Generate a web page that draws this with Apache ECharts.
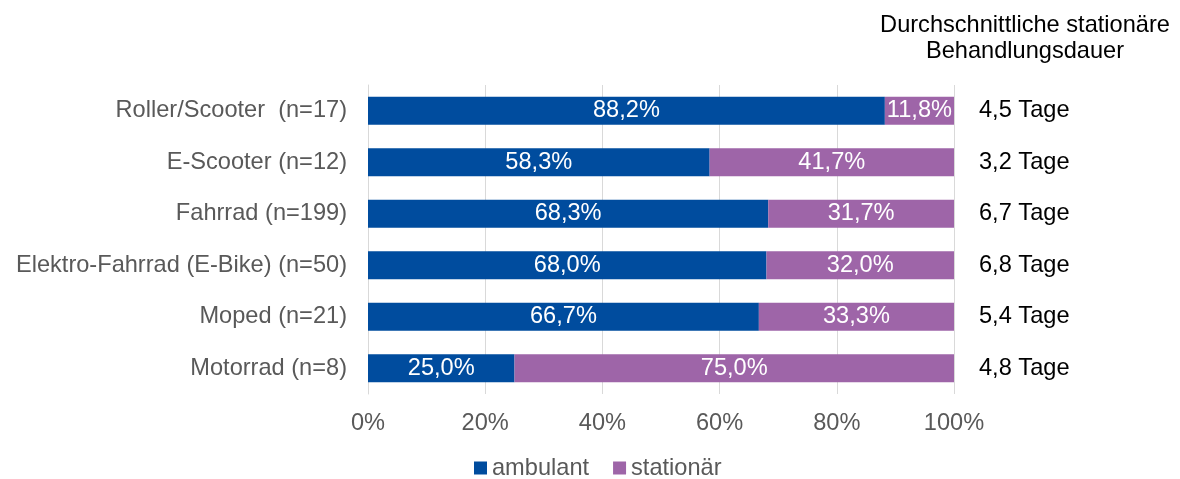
<!DOCTYPE html>
<html><head><meta charset="utf-8">
<script src="https://cdn.jsdelivr.net/npm/echarts@6/dist/echarts.min.js"></script>
<style>html,body{margin:0;padding:0;background:#fff}#c{width:1180px;height:479px}</style>
</head><body><div id="c"></div>
<script>
const categories = ['Roller/Scooter  (n=17)','E-Scooter (n=12)','Fahrrad (n=199)','Elektro-Fahrrad (E-Bike) (n=50)','Moped (n=21)','Motorrad (n=8)'];
const ambulant = [88.2, 58.3, 68.3, 68.0, 66.7, 25.0];
const stationaer = [11.8, 41.7, 31.7, 32.0, 33.3, 75.0];
const dauer = ['4,5 Tage','3,2 Tage','6,7 Tage','6,8 Tage','5,4 Tage','4,8 Tage'];
const xTicks = [0, 20, 40, 60, 80, 100];
const font = 'Liberation Sans, Arial, sans-serif';
const FS = 23.6;
const fmt = v => v.toFixed(1).replace('.', ',') + '%';
const chart = echarts.init(document.getElementById('c'));
chart.setOption({
  animation: false,
  textStyle: {fontFamily: font},
  grid: {left: 368, right: 226, top: 85, bottom: 85, containLabel: false},
  graphic: [{type: 'text', style: {
    text: 'Durchschnittliche stationäre\nBehandlungsdauer', x: 1025, y: 12,
    textAlign: 'center', font: FS + 'px ' + font, fill: '#000', lineHeight: 26.5}}],
  legend: {left: 474, top: 456, padding: 0, itemWidth: 13, itemHeight: 13, itemGap: 24,
    icon: 'rect', textStyle: {fontSize: FS, color: '#595959', fontFamily: font},
    data: ['ambulant', 'stationär']},
  xAxis: {type: 'value', min: 0, max: 100, interval: 20,
    axisLabel: {formatter: v => xTicks.includes(v) ? v + '%' : '', fontSize: FS, color: '#595959', margin: 17},
    splitLine: {lineStyle: {color: '#d9d9d9', width: 1}},
    axisLine: {show: false}, axisTick: {show: false}},
  yAxis: [{type: 'category', data: categories, inverse: true,
    axisLabel: {fontSize: FS, color: '#595959', margin: 21},
    axisLine: {show: true, lineStyle: {color: '#d9d9d9'}}, axisTick: {show: false}},
   {type: 'category', data: dauer, inverse: true, position: 'right',
    axisLabel: {fontSize: FS, color: '#000', margin: 25, align: 'left'},
    axisLine: {show: false}, axisTick: {show: false}}],
  series: [
    {name: 'ambulant', type: 'bar', stack: 's', data: ambulant, barWidth: 28,
     itemStyle: {color: '#004C9E'},
     label: {show: true, position: 'inside', color: '#fff', fontSize: FS, formatter: p => fmt(p.value)}},
    {name: 'stationär', type: 'bar', stack: 's', data: stationaer, barWidth: 28,
     itemStyle: {color: '#9E65A8'},
     label: {show: true, position: 'inside', color: '#fff', fontSize: FS, formatter: p => fmt(p.value)}}
  ]
});
</script></body></html>
